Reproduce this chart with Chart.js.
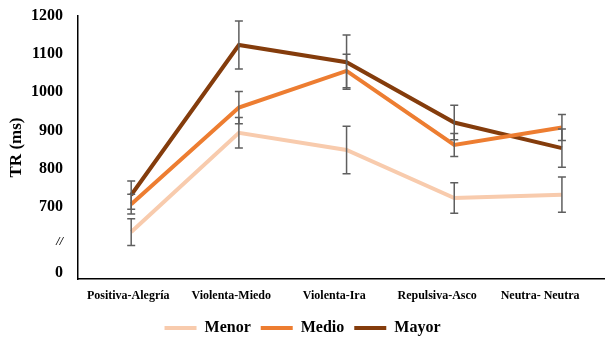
<!DOCTYPE html>
<html>
<head>
<meta charset="utf-8">
<script src="https://cdn.jsdelivr.net/npm/chart.js@4/dist/chart.umd.min.js"></script>
<style>
  html, body { margin: 0; padding: 0; background: #fff; }
  #wrap { width: 605px; height: 337px; }
</style>
</head>
<body>
<div id="wrap"><canvas id="chart"></canvas></div>
<script>
  const categories = ['Positiva-Alegría', 'Violenta-Miedo', 'Violenta-Ira', 'Repulsiva-Asco', 'Neutra- Neutra'];

  const menor    = [634, 894, 849, 723, 732];
  const menorErr = [35, 40, 62, 40, 46];
  const medio    = [707, 960, 1056, 862, 908];
  const medioErr = [26, 42, 44, 30, 34];
  const mayor    = [731, 1124, 1079, 921, 854];
  const mayorErr = [37, 63, 71, 45, 50];

  // y ticks: the two lowest stand in for the axis break ("0" and "//")
  const yTicks = [526, 608, 700, 800, 900, 1000, 1100, 1200];
  const yTickText = { 526: '0', 608: '//' };

  const serif = '"Liberation Serif", "Times New Roman", serif';

  function pts(arr, err) {
    return arr.map((v, i) => ({ x: i, y: v, e: err[i] }));
  }

  function series(label, color, arr, err) {
    return {
      label,
      data: pts(arr, err),
      borderColor: color,
      backgroundColor: color,
      borderWidth: 4,
      pointRadius: 0,
      pointHoverRadius: 0,
      tension: 0,
      xAxisID: 'x',
      yAxisID: 'y',
      pointStyle: 'line',
    };
  }

  const errorBars = {
    id: 'errorBars',
    afterDatasetsDraw(chart) {
      const ctx = chart.ctx;
      const ys = chart.scales.y;
      ctx.save();
      ctx.strokeStyle = '#5f5f5f';
      ctx.lineWidth = 1.5;
      chart.data.datasets.forEach((ds, di) => {
        const meta = chart.getDatasetMeta(di);
        meta.data.forEach((el, i) => {
          const p = ds.data[i];
          const x = el.x;
          const top = ys.getPixelForValue(p.y + p.e);
          const bot = ys.getPixelForValue(p.y - p.e);
          ctx.beginPath();
          ctx.moveTo(x, top); ctx.lineTo(x, bot);
          ctx.moveTo(x - 4, top); ctx.lineTo(x + 4, top);
          ctx.moveTo(x - 4, bot); ctx.lineTo(x + 4, bot);
          ctx.stroke();
        });
      });
      ctx.restore();
    }
  };

  new Chart(document.getElementById('chart'), {
    type: 'line',
    data: {
      datasets: [
        series('Menor', '#F8CBAD', menor, menorErr),
        series('Medio', '#ED7D31', medio, medioErr),
        series('Mayor', '#843C0C', mayor, mayorErr),
      ]
    },
    options: {
      responsive: true,
      maintainAspectRatio: false,
      animation: false,
      layout: { padding: { top: 16, right: 0, left: 0, bottom: -9 } },
      plugins: {
        tooltip: { enabled: false },
        legend: {
          position: 'bottom',
          labels: {
            usePointStyle: true,
            pointStyleWidth: 32,
            boxHeight: 4,
            padding: 10,
            color: '#000',
            font: { family: serif, size: 16, weight: 'bold' }
          }
        }
      },
      scales: {
        x: {
          type: 'linear',
          position: 'bottom',
          display: false,
          min: -0.494,
          max: 4.40,
        },
        xl: {
          type: 'linear',
          position: 'bottom',
          min: -0.488,
          max: 4.63,
          afterBuildTicks: s => { s.ticks = categories.map((c, i) => ({ value: i })); },
          afterFit: s => { s.height = 31; },
          grid: { display: false, drawTicks: false },
          border: { display: true, color: '#000', width: 1.5 },
          ticks: {
            autoSkip: false,
            maxRotation: 0,
            padding: 10,
            color: '#000',
            font: { family: serif, size: 12, weight: 'bold' },
            callback: v => categories[v] || ''
          }
        },
        y: {
          type: 'linear',
          min: 511,
          max: 1200,
          afterBuildTicks: s => { s.ticks = yTicks.map(v => ({ value: v })); },
          afterFit: s => { s.width = 78; s.paddingTop = 0; s.paddingBottom = 0; },
          grid: { display: false, drawTicks: false },
          border: { display: true, color: '#000', width: 1.5 },
          title: {
            display: true,
            text: 'TR (ms)',
            color: '#000',
            padding: { top: 6, bottom: 0 },
            font: { family: serif, size: 17, weight: 'bold' }
          },
          ticks: {
            padding: 15,
            color: '#000',
            font: c => ({ family: serif, size: c.tick && c.tick.value === 608 ? 12 : 16, weight: 'bold', style: c.tick && c.tick.value === 608 ? 'italic' : 'normal' }),
            callback: v => yTickText[v] !== undefined ? yTickText[v] : String(v)
          }
        }
      }
    },
    plugins: [errorBars]
  });
</script>
</body>
</html>
